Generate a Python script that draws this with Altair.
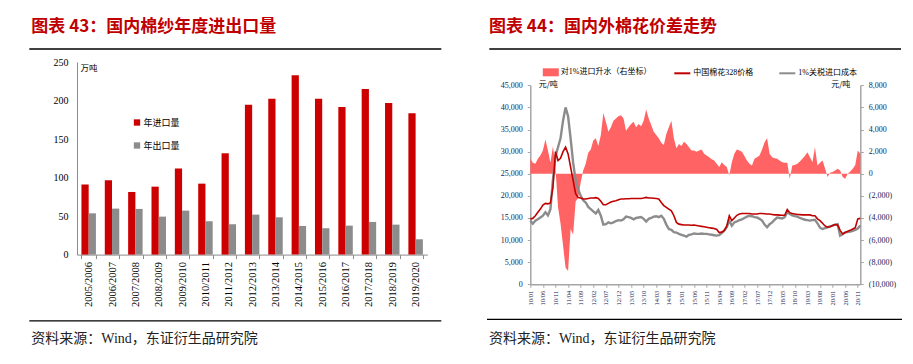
import altair as alt
import pandas as pd

# ---------------- fonts / colours ----------------
SERIF = "Liberation Serif"
CJK = "Noto Sans CJK SC"
MIX = "Liberation Serif, Noto Sans CJK SC"
NAVY = "#1a2350"
AXIS_GRAY = "#A6A6A6"

# ---------------- left chart data ----------------
seasons = ["2005/2006", "2006/2007", "2007/2008", "2008/2009", "2009/2010",
           "2010/2011", "2011/2012", "2012/2013", "2013/2014", "2014/2015",
           "2015/2016", "2016/2017", "2017/2018", "2018/2019", "2019/2020"]
yarn_import = [91, 96.5, 81.3, 88.2, 111.6, 92.1, 131.5, 194.6, 202.4, 232.7,
               202.4, 191.6, 215, 196.8, 183.4]
yarn_export = [53.6, 59.7, 59.3, 49.3, 57.1, 43.3, 39.4, 51.9, 48.4, 37.2,
               34.2, 37.6, 42.4, 38.9, 19.9]
bar_series = ["年进口量", "年出口量"]
left_title = "图表 43：国内棉纱年度进出口量"
left_unit = "万吨"

# ---------------- right chart data (monthly, from 2010-01) ----------------
first_year = 2010
price_328 = [
    14800, 14900, 15500, 16300, 17000, 17900, 18300, 18200, 18400, 22000, 30000, 28000,
    28500, 30000, 31000, 29500, 26500, 23500, 20500, 19600, 19500, 19300, 19300, 19400,
    19500, 19500, 19600, 19400, 18800, 18000, 18000, 18300, 18600, 18800, 18900, 19100,
    19300, 19300, 19350, 19350, 19400, 19400, 19400, 19400, 19400, 19500, 19650, 19500,
    19500, 19450, 19400, 19300, 18500, 17800, 17400, 17000, 16600, 15500, 14000, 13600,
    13500, 13400, 13400, 13400, 13350, 13400, 13300, 13200, 13100, 13000, 12900, 12800,
    12700, 12600, 12400, 11700, 11800, 12200, 13200, 15500, 14400, 15000, 15600, 15900,
    16000, 16000, 16000, 16000, 15900, 15900, 15900, 16000, 16000, 15950, 15900, 15900,
    15800, 15700, 15700, 15650, 15600, 15600, 16900, 16200, 16000, 15900, 15800, 15750,
    15700, 15700, 15700, 15700, 15500, 15500, 14800, 14400, 13800, 13200, 12900, 13000,
    13300, 13500, 13400, 12200, 11400, 11700, 12000, 12200, 12500, 12800, 14800, 14900,
]
import_cost = [
    14400, 13700, 14400, 14700, 15100, 15500, 16300, 15600, 17000, 23800, 29000, 31000,
    33000, 37000, 40000, 38000, 33000, 27500, 23500, 21500, 20000, 19000, 18500, 17500,
    17000, 16500, 16000, 16800, 15500, 13500, 13600, 14000, 13800, 14000, 14300, 14500,
    14400, 14700, 15300, 15200, 15000, 14700, 15000, 15100, 15200, 14800, 14200, 14800,
    15000, 15300, 15400, 15200, 15500, 14800, 13500, 12500, 12300, 11800, 11700, 11400,
    11200, 11000, 10800, 11200, 11300, 11500, 11400, 11400, 11500, 11400, 11400, 11300,
    11200, 11100, 11000, 11100, 11600, 12100, 12900, 14400, 13250, 14000, 14200, 14500,
    14700, 15000, 15300, 15500, 15400, 15200, 15100, 14800, 14400, 13500, 12900, 13600,
    14000, 14600, 15100, 15000, 14900, 15200, 16300, 15900, 15600, 15400, 15300, 15000,
    14800, 14600, 14500, 14400, 14500, 14600, 13800, 12800, 12500, 12700, 12900, 13100,
    13250, 13500, 13600, 11000, 11300, 11750, 11800, 11900, 12100, 12300, 12600, 13300,
]
spread = [
    1350, 1000, 900, 1350, 1650, 2100, 3100, 2100, 1000, 2500, 500, -3000,
    -4500, -6500, -8500, -8800, -5000, -5500, -2500, -2200, -800, 300, 900, 1900,
    2200, 3000, 3200, 2500, 3500, 5500, 4700, 3800, 4200, 4800, 5000, 5200,
    5300, 5000, 3900, 4200, 4500, 4700, 4200, 4500, 4300, 4800, 5800, 5000,
    4400, 3800, 3500, 3200, 2800, 2600, 3600, 4200, 4800, 3200, 2300, 2700,
    2500, 2900, 2700, 2400, 2100, 2100, 2000, 2100, 2200, 1800, 1650, 1500,
    1300, 1200, 900, 600, 1050, 800, 600, -150, 1050, 1800, 2200, 2100,
    2000, 1600, 1200, 900, 750, 1350, 1500, 1650, 2200, 2850, 3200, 1800,
    1500, 1400, 1350, 1200, 1050, 1000, 1000, -450, 750, 800, 900, 1100,
    1350, 1600, 1950, 1500, 1050, 2400, 750, 1000, 1200, 500, -300, 100,
    150, 300, 450, 300, -300, -450, 0, 200, 450, 800, 2100, 1800,
]
line_series = ["中国棉花328价格", "1%关税进口成本"]
area_series = "对1%进口升水（右坐标）"
right_title = "图表 44：国内外棉花价差走势"
right_unit = "元/吨"
source_text = "资料来源：Wind，东证衍生品研究院"


# ---------------- helpers for decorations ----------------
def deco_text(txt, x, y, size, color="#000", weight="normal", font=CJK, align="left"):
    return alt.Chart(pd.DataFrame({"t": [txt]})).mark_text(
        align=align, baseline="middle", fontSize=size, color=color,
        fontWeight=weight, font=font
    ).encode(x=alt.value(x), y=alt.value(y), text="t:N")


def hline(x1, x2, y, color="#000", width=1.3, opacity=1.0):
    return alt.Chart(pd.DataFrame({"a": [0]})).mark_rule(
        color=color, strokeWidth=width, opacity=opacity
    ).encode(x=alt.value(x1), x2=alt.value(x2), y=alt.value(y))


# ---------------- left panel ----------------
LW, LH = 350.3, 192.6
RIGHT_DX = 452.6          # offset of the right plot from the left plot (for legends)
bar_df = pd.DataFrame({
    "season": seasons * 2,
    "series": [bar_series[0]] * len(seasons) + [bar_series[1]] * len(seasons),
    "value": yarn_import + yarn_export,
})

bars = alt.Chart(bar_df).mark_bar().encode(
    x=alt.X("season:N", sort=seasons, title=None,
            scale=alt.Scale(paddingInner=0.38, paddingOuter=0.19),
            axis=alt.Axis(labelAngle=270, labelFont=SERIF, labelFontSize=10.5,
                          labelColor="#000", domainColor="#8c8c8c",
                          tickColor="#8c8c8c", tickSize=4, tickBand="extent",
                          labelPadding=3)),
    xOffset=alt.XOffset("series:N", sort=bar_series,
                        scale=alt.Scale(paddingInner=0, paddingOuter=0)),
    y=alt.Y("value:Q", title=None, scale=alt.Scale(domain=[0, 250], nice=False),
            axis=alt.Axis(values=[0, 50, 100, 150, 200, 250], grid=False, ticks=False,
                          labelPadding=9, labelFont=SERIF, labelFontSize=10,
                          labelColor="#000", domainColor="#8c8c8c")),
    color=alt.Color("series:N", sort=bar_series,
                    scale=alt.Scale(domain=bar_series, range=["#CC0000", "#8C8C8C"]),
                    legend=alt.Legend(title=None, orient="none", legendX=55.5, legendY=56,
                                      direction="vertical", symbolType="square",
                                      symbolSize=40, symbolStrokeWidth=0,
                                      labelFont=CJK, labelFontSize=9, labelColor="#000",
                                      labelOffset=2, rowPadding=13, padding=0)),
)

# invisible frame that fixes the chart's top-left corner on the page
frame = alt.Chart(pd.DataFrame({"a": [0]})).mark_rule(opacity=0, color="white").encode(
    x=alt.value(-67.7), x2=alt.value(824.3), y=alt.value(-52.7), y2=alt.value(289.3)
)

left = alt.layer(
    frame,
    bars,
    deco_text(left_unit, 3.5, 6, 8.5),
    deco_text(left_title, -45.7, -34.7, 17, color="#C00000", weight="bold"),
    hline(-47.7, 364.3, -13),
    hline(-47.7, 364.3, 258.8),
    deco_text(source_text, -45.7, 277.3, 14, color="#222", font=MIX),
).properties(width=LW, height=LH)

# ---------------- right panel ----------------
RW, RH, RTOP = 330, 222.3, 23.3
months = list(range(len(price_328)))
ts_df = pd.DataFrame({
    "m": months, "p328": price_328, "cost": import_cost, "spread": spread,
    "area_name": [area_series] * len(months),
    "red_name": [line_series[0]] * len(months),
    "gray_name": [line_series[1]] * len(months),
})

x_ts = alt.X(
    "m:Q", title=None,
    scale=alt.Scale(domain=[0, len(months) - 1], nice=False, zero=False),
    axis=alt.Axis(values=list(range(0, len(months), 5)),
                  labelExpr=f"format({first_year % 100} + floor(datum.value / 12), '02d') + '/' + format(datum.value % 12 + 1, '02d')",
                  labelAngle=270, labelFont=SERIF, labelFontSize=6.5, labelColor=NAVY,
                  domainColor=AXIS_GRAY, domainWidth=1.5, tickColor=AXIS_GRAY,
                  tickSize=3, labelPadding=3, grid=False, labelOverlap=False),
)

area = alt.Chart(ts_df).mark_area().encode(
    x=x_ts,
    y=alt.Y("spread:Q", title=None,
            scale=alt.Scale(domain=[-10000, 8000], range=[RH, RTOP], nice=False, zero=False),
            axis=alt.Axis(orient="right", values=list(range(-10000, 8001, 2000)),
                          labelExpr="datum.value < 0 ? '(' + format(-datum.value, ',') + ')' : format(datum.value, ',')",
                          grid=False, labelFont=SERIF, labelFontSize=8, labelColor=NAVY,
                          domainColor=AXIS_GRAY, domainWidth=1.5, tickColor=AXIS_GRAY,
                          tickSize=3, labelPadding=5)),
    y2=alt.datum(0),
    fill=alt.Fill("area_name:N",
                  scale=alt.Scale(domain=[area_series], range=["#FF6363"]),
                  legend=alt.Legend(title=None, orient="none",
                                    legendX=RIGHT_DX + 13.2, legendY=2.3,
                                    symbolType="M-1,-0.5H1V0.5H-1Z", symbolSize=256,
                                    symbolStrokeWidth=0, symbolOpacity=1,
                                    labelFont=MIX, labelFontSize=8, labelColor="#000",
                                    labelOffset=2, padding=0)),
)

y_axis_left = alt.Axis(orient="left", values=list(range(0, 45001, 5000)),
                       labelExpr="format(datum.value, ',')",
                       grid=False, labelFont=SERIF, labelFontSize=8, labelColor=NAVY,
                       domainColor=AXIS_GRAY, domainWidth=1.5, tickColor=AXIS_GRAY,
                       tickSize=3, labelPadding=5)
y_scale_left = alt.Scale(domain=[0, 45000], range=[RH, RTOP], nice=False)
stroke_scale = alt.Scale(domain=line_series, range=["#C00000", "#8C8C8C"])
stroke_legend = alt.Legend(title=None, orient="none", legendX=RIGHT_DX + 143.7, legendY=2.3,
                           direction="horizontal", symbolType="stroke", symbolSize=256,
                           symbolStrokeWidth=2, labelFont=MIX, labelFontSize=8,
                           labelColor="#000", labelOffset=2, columnPadding=22, padding=0)

gray_line = alt.Chart(ts_df).mark_line(strokeWidth=2.4).encode(
    x=x_ts,
    y=alt.Y("cost:Q", title=None, scale=y_scale_left, axis=y_axis_left),
    stroke=alt.Stroke("gray_name:N", scale=stroke_scale, legend=stroke_legend),
)
red_line = alt.Chart(ts_df).mark_line(strokeWidth=1.6).encode(
    x=x_ts,
    y=alt.Y("p328:Q", title=None, scale=y_scale_left, axis=y_axis_left),
    stroke=alt.Stroke("red_name:N", scale=stroke_scale, legend=stroke_legend),
)
lines = alt.layer(gray_line, red_line)

right = alt.layer(
    area,
    lines,
    deco_text(right_unit, 8.4, RTOP, 8),
    deco_text(right_unit, 320, RTOP, 8, align="right"),
    deco_text(right_title, -41.3, -34.7, 17, color="#C00000", weight="bold"),
    hline(-41, 370.7, -13),
    hline(-43.3, 371.7, 257.3),
    deco_text(source_text, -41.3, 277.3, 14, color="#222", font=MIX),
).resolve_scale(y="independent").properties(width=RW, height=RH)

chart = alt.hconcat(left, right, spacing=102.3, bounds="flush").properties(
    padding=0
).configure_view(stroke="transparent")

chart.save("out.html", embed_options={"renderer": "svg", "actions": False})
